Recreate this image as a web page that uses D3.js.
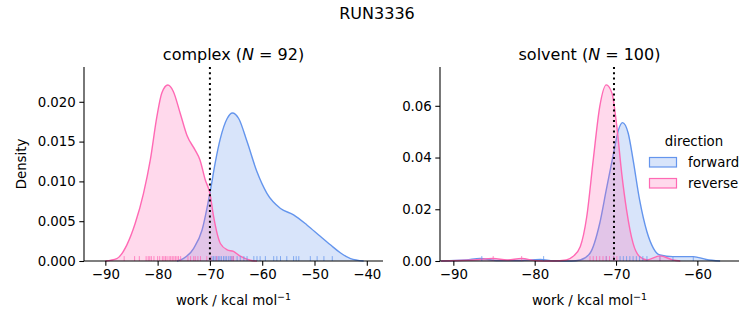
<!DOCTYPE html>
<html>
<head>
<meta charset="utf-8">
<script src="https://cdn.jsdelivr.net/npm/d3@7"></script>
<style>
  body { margin: 0; background: #fff; }
  svg text { font-family: "DejaVu Sans", sans-serif; fill: #000; }
</style>
</head>
<body>
<svg id="chart" width="753" height="325"></svg>
<script>

// ---- data ----
var directions = ['forward', 'reverse']
var colors = ['#6495ED', '#FF69B4']

// density curves, [work, density]
var complexForward = [[-76.3,0],[-75.1,0.0003],[-73.1,0.0016],[-71.5,0.0039],[-69.9,0.0089],[-69.0,0.0123],
	[-68.0,0.0154],[-66.7,0.0179],[-65.7,0.0186],[-64.5,0.0179],[-62.9,0.0150],[-61.0,0.0112],[-59.1,0.0085],
	[-56.5,0.0066],[-54.0,0.0058],[-51.4,0.0045],[-48.9,0.0031],[-46.9,0.0020],[-45.0,0.0010],[-43.1,0.0003],[-40.6,0]]
var complexReverse = [[-90,0],[-87.8,0.0003],[-85.9,0.0020],[-84.3,0.0047],[-82.7,0.0085],[-81.4,0.0127],
	[-80.15,0.0181],[-79.2,0.0211],[-78.05,0.0221],[-77.0,0.0213],[-75.7,0.0186],[-74.4,0.0158],[-72.8,0.0139],
	[-71.9,0.0127],[-70.9,0.0102],[-70.0,0.0085],[-69.3,0.0056],[-68.0,0.0022],[-66.7,0.0014],[-65.5,0.0012],
	[-64.2,0.0006],[-62.3,0.0001],[-61.0,0]]
var solventForward = [[-91.5,0],[-88.4,0.0004],[-86.7,0.0010],[-84.7,0.0002],[-82.2,0.0002],[-79.3,0.0006],
	[-77.7,0.0001],[-75.5,0],[-74.4,0.0004],[-73.2,0.0030],[-72.0,0.0146],[-71.2,0.0275],[-70.3,0.0417],
	[-69.7,0.0507],[-69.2,0.0535],[-68.5,0.0494],[-67.9,0.0391],[-67.1,0.0236],[-66.2,0.0113],[-65.4,0.0049],
	[-64.6,0.0023],[-63.0,0.0017],[-60.5,0.0017],[-58.9,0.0006],[-57.2,0]]
var solventReverse = [[-91.5,0],[-87.5,0.0004],[-85.1,0.0010],[-83.4,0.0004],[-81.6,0.0010],[-79.8,0.0001],
	[-77.7,0],[-76.1,0.0004],[-75.3,0.0017],[-74.4,0.0055],[-73.6,0.0171],[-72.8,0.0391],[-72.0,0.0597],
	[-71.2,0.0681],[-70.5,0.0649],[-69.9,0.0520],[-69.3,0.0339],[-68.7,0.0197],[-67.9,0.0068],[-67.1,0.0017],
	[-66.2,0.0004],[-64.6,0.0020],[-63.0,0.0004],[-62.1,0]]

// rug samples (work values)
var complexForwardRug = [-69.6,-69.3,-69.0,-68.7,-68.4,-68.1,-67.8,-67.4,-67.1,-66.8,-66.4,-66.1,-65.8,-65.5,
	-64.8,-64.2,-63.5,-62.9,-61.6,-61.0,-60.4,-59.4,-57.8,-57.2,-56.5,-55.3,-54.0,-53.5,-53.0,-50.8,-49.5,-48.2,-46.6]
var complexReverseRug = [-86.4,-84.4,-83.5,-82.2,-81.8,-81.5,-81.2,-80.7,-80.0,-79.6,-79.1,-78.8,-78.5,-78.2,
	-77.8,-77.5,-77.2,-76.9,-76.6,-76.3,-76.0,-75.6,-74.2,-73.7,-73.1,-72.8,-72.3,-71.8,-70.6,-69.8,-68.7,-65.8,-65.5]
var solventForwardRug = [-86.5,-78.9,-71.2,-70.3,-69.5,-69.1,-68.7,-68.3,-67.9,-67.5,-67.1,-66.7,-66.2,-64.6,-63.0,-60.5]
var solventReverseRug = [-85.1,-81.6,-73.2,-72.8,-72.4,-72.0,-71.6,-71.2,-70.8,-70.3,-69.9,-64.6]

// dotted reference lines
var complexLine = -70.0
var solventLine = -70.25

// ticks
var complexXTicks = [-90,-80,-70,-60,-50,-40]
var complexYTicks = [0,0.005,0.010,0.015,0.020]
var solventXTicks = [-90,-80,-70,-60]
var solventYTicks = [0,0.02,0.04,0.06]


var svg = d3.select('#chart')
var plotTop = 67, plotBottom = 261

svg.append('text')
	.attr('x', 377).attr('y', 19)
	.attr('text-anchor', 'middle')
	.style('font-size', '16px')
	.text('RUN3336')

function drawPanel(p) {
	var x = d3.scaleLinear().domain(p.xDomain).range([p.left, p.right])
	var y = d3.scaleLinear().domain(p.yDomain).range([plotBottom, plotTop])
	var g = svg.append('g')

	var area = d3.area().x(function(d) { return x(d[0]) }).y0(plotBottom).y1(function(d) { return y(d[1]) }).curve(d3.curveMonotoneX)
	var line = d3.line().x(function(d) { return x(d[0]) }).y(function(d) { return y(d[1]) }).curve(d3.curveMonotoneX)

	for (i=0; i<p.curves.length; i++) {
		g.append('path').attr('d', area(p.curves[i]))
			.attr('fill', colors[i]).attr('fill-opacity', 0.25)
		g.append('path').attr('d', line(p.curves[i]))
			.attr('fill', 'none').attr('stroke', colors[i]).attr('stroke-width', 1.4)
	}

	// rugs
	for (i=0; i<p.rugs.length; i++) {
		g.append('g').selectAll('line')
			.data(p.rugs[i]).enter()
			.append('line')
			.attr('x1', function(d) { return x(d) }).attr('x2', function(d) { return x(d) })
			.attr('y1', plotBottom).attr('y2', plotBottom - 4.9)
			.attr('stroke', colors[i]).attr('stroke-opacity', 0.75).attr('stroke-width', 1)
	}

	g.append('line')
		.attr('x1', x(p.vline)).attr('x2', x(p.vline))
		.attr('y1', plotTop).attr('y2', plotBottom)
		.attr('stroke', '#000').attr('stroke-width', 2).attr('stroke-dasharray', '2,3.3')

	var xAxis = g.append('g').attr('transform', 'translate(0,' + plotBottom + ')')
		.call(d3.axisBottom(x).tickValues(p.xTicks).tickFormat(d3.format('d')).tickSize(4.7).tickPadding(3.5))
	var yAxis = g.append('g').attr('transform', 'translate(' + p.left + ',0)')
		.call(d3.axisLeft(y).tickValues(p.yTicks).tickFormat(d3.format(p.yFormat)).tickSize(4.7).tickPadding(3.5))
	;[xAxis, yAxis].forEach(function(a) {
		a.selectAll('text').style('font-size', '13.33px').style('font-family', '"DejaVu Sans", sans-serif').attr('fill', '#000')
		a.selectAll('line').attr('stroke', '#000').attr('stroke-width', 1.07)
		a.select('.domain').attr('stroke', '#000').attr('stroke-width', 1.07)
			.attr('d', a === xAxis ? 'M' + p.left + ',0H' + p.right : 'M0,' + plotTop + 'V' + plotBottom)
	})

	var cx = (p.left + p.right) / 2
	var t = svg.append('text').attr('x', cx).attr('y', 60).attr('text-anchor', 'middle').style('font-size', '16px')
	t.append('tspan').text(p.name + ' (')
	t.append('tspan').style('font-style', 'italic').text('N')
	t.append('tspan').text(' = ' + p.n + ')')

	var xl = svg.append('text').attr('x', cx).attr('y', 305).attr('text-anchor', 'middle').style('font-size', '13.33px')
	xl.append('tspan').text('work / kcal mol')
	xl.append('tspan').attr('dy', -5).style('font-size', '9.5px').text('\u22121')
}

drawPanel({
	name: 'complex', n: 92, left: 84, right: 383,
	xDomain: [-94.08, -36.9], yDomain: [0, 0.02437],
	curves: [complexForward, complexReverse], rugs: [complexForwardRug, complexReverseRug],
	vline: complexLine, xTicks: complexXTicks, yTicks: complexYTicks, yFormat: '.3f'
})
drawPanel({
	name: 'solvent', n: 100, left: 440, right: 739,
	xDomain: [-91.64, -54.88], yDomain: [0, 0.0750],
	curves: [solventForward, solventReverse], rugs: [solventForwardRug, solventReverseRug],
	vline: solventLine, xTicks: solventXTicks, yTicks: solventYTicks, yFormat: '.2f'
})

svg.append('text')
	.attr('transform', 'translate(26,164) rotate(-90)')
	.attr('text-anchor', 'middle')
	.style('font-size', '13.33px')
	.text('Density')

// legend
var legend = svg.append('g')
legend.append('text').attr('x', 694).attr('y', 146).attr('text-anchor', 'middle').style('font-size', '13.33px').text('direction')
legend.selectAll('rect').data(directions).enter()
	.append('rect')
	.attr('x', 649.5).attr('y', function(d, i) { return 157.5 + i * 21 })
	.attr('width', 27).attr('height', 9.5)
	.attr('fill', function(d, i) { return colors[i] }).attr('fill-opacity', 0.25)
	.attr('stroke', function(d, i) { return colors[i] }).attr('stroke-width', 1.2)
legend.selectAll('text.item').data(directions).enter()
	.append('text').attr('class', 'item')
	.attr('x', 688).attr('y', function(d, i) { return 167 + i * 21 })
	.style('font-size', '13.33px')
	.text(function(d) { return d })

</script>
</body>
</html>
